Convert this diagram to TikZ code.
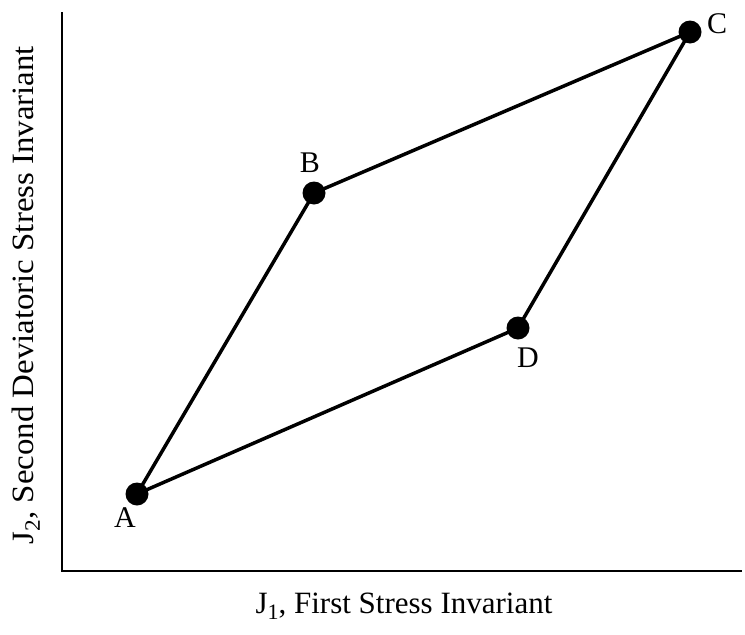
\documentclass[tikz,border=0pt]{standalone}
\usepackage{fontspec}
\setmainfont{Liberation Serif}
\usepackage{tikz}
\usetikzlibrary{positioning}
\newcommand{\lowsub}[1]{\raisebox{-0.45ex}{\fontsize{22}{24}\selectfont #1}}

\begin{document}
\begin{tikzpicture}[x=1pt, y=-1pt,
    dot/.style={circle, fill=black, inner sep=0pt, minimum size=23pt},
    ptlabel/.style={font=\fontsize{30}{33}\selectfont, inner sep=0pt},
    axlabel/.style={font=\fontsize{31}{34}\selectfont, inner sep=0pt}]
            \useasboundingbox (0,0) rectangle (745,635);
            % axes
            \coordinate (ytop) at (62,12);
            \coordinate (O) at (62,571);
            \coordinate (xend) at (742,571);
            \draw[line width=2.2pt] (ytop) -- (O) -- (xend);
            \node[axlabel] (xlab) at (404,606) {J\lowsub{1}, First Stress Invariant};
            \node[axlabel, rotate=90, xscale=1.06] (ylab) at (26,295) {J\lowsub{2}, Second Deviatoric Stress Invariant};
            % stress path
            \foreach \p/\x/\y/\lx/\ly in {A/137/494/125/518, B/314/193/310/163, C/690/32/717/24, D/518/328/528/358} {
                \node[dot] (\p) at (\x,\y) {};
                \node[ptlabel] (l\p) at (\lx,\ly) {\p};
            }
            \draw[line width=3.5pt] (A.center) -- (B.center) -- (C.center) -- (D.center) -- cycle;
        \end{tikzpicture}
\end{document}
